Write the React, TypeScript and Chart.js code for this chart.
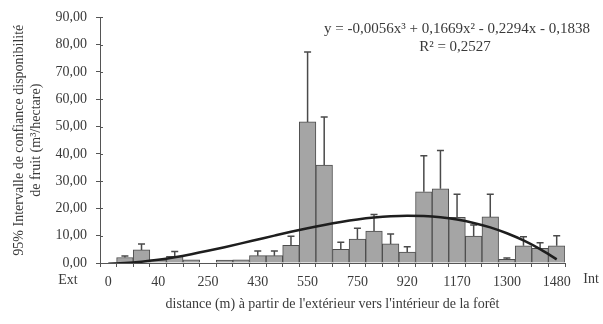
import React, { useEffect, useRef } from "react";
import { Chart, registerables } from "chart.js";

Chart.register(...registerables);

const categories = ["0", "", "", "40", "", "", "250", "", "", "430", "", "", "550", "", "", "750", "", "", "920", "", "", "1170", "", "", "1300", "", "", "1480"];
const barValues = [null, 2.0, 4.8, 1.2, 2.4, 1.2, null, 1.1, 1.2, 2.7, 2.7, 6.5, 51.7, 35.9, 5.0, 8.8, 11.7, 7.0, 4.0, 26.1, 27.2, 16.7, 9.9, 16.9, 1.3, 6.3, 5.4, 6.3];
const errorTop = [null, 2.6, 7.0, null, 4.2, null, null, null, null, 4.4, 4.4, 9.8, 77.3, 53.5, 7.6, 12.7, 17.8, 10.6, 6.0, 39.3, 41.2, 25.2, 13.9, 25.2, 1.8, 9.6, 7.4, 10.0];
const trendValues = [-0.25, -0.02, 0.48, 1.21, 2.14, 3.24, 4.47, 5.8, 7.19, 8.61, 10.03, 11.42, 12.74, 13.95, 15.03, 15.94, 16.64, 17.11, 17.3, 17.19, 16.74, 15.92, 14.69, 13.04, 10.89, 8.25, 5.07, 1.32];
const equationText = "y = -0,0056x³ + 0,1669x² - 0,2294x - 0,1838";
const r2Text = "R² = 0,2527";
const yTitle = ["95% Intervalle de confiance disponibilité", "de fruit (m³/hectare)"];
const xTitle = "distance (m) à partir de l'extérieur vers l'intérieur de la forêt";
const leftEndLabel = "Ext";
const rightEndLabel = "Int";

const FONT = "'Liberation Serif', 'Times New Roman', serif";
const TEXT = "#3a3a3a";
const AXIS = "#555555";

const decorPlugin = {
  id: "decor",
  afterDatasetDraw(chart: any, args: any) {
    if (args.index !== 0) return;
    const { ctx } = chart;
    const x = chart.scales.x;
    const y = chart.scales.y;
    ctx.save();
    ctx.strokeStyle = "#4a4a4a";
    ctx.lineWidth = 1.5;
    errorTop.forEach((e, i) => {
      const v = barValues[i];
      if (e == null || v == null) return;
      const px = x.getPixelForValue(i);
      const y0 = y.getPixelForValue(v);
      const y1 = y.getPixelForValue(e);
      ctx.beginPath();
      ctx.moveTo(px, y0);
      ctx.lineTo(px, y1);
      ctx.moveTo(px - 3.5, y1);
      ctx.lineTo(px + 3.5, y1);
      ctx.stroke();
    });
    ctx.restore();
  },
  afterDraw(chart: any) {
    const { ctx, chartArea } = chart;
    const y = chart.scales.y;
    ctx.save();
    ctx.strokeStyle = AXIS;
    ctx.lineWidth = 1;
    y.ticks.forEach((t: any) => {
      const py = Math.round(y.getPixelForValue(t.value)) + 0.5;
      ctx.beginPath();
      ctx.moveTo(chartArea.left, py);
      ctx.lineTo(chartArea.left + 3, py);
      ctx.stroke();
    });
    ctx.fillStyle = TEXT;
    ctx.font = "14px " + FONT;
    ctx.textAlign = "center";
    ctx.textBaseline = "middle";
    const zeroY = y.getPixelForValue(0);
    ctx.fillText(leftEndLabel, chartArea.left - 32, zeroY + 17);
    ctx.fillText(rightEndLabel, chartArea.right + 26, zeroY + 16);
    ctx.font = "15px " + FONT;
    ctx.fillText(equationText, chartArea.right - 108, chartArea.top + 12);
    ctx.fillText(r2Text, chartArea.right - 110, chartArea.top + 30);
    ctx.restore();
  },
};

export default function App() {
  const ref = useRef<HTMLCanvasElement | null>(null);
  useEffect(() => {
    document.body.style.margin = "0";
    const canvas = ref.current;
    if (!canvas) return;
    const chart = new Chart(canvas, {
      type: "bar",
      data: {
        labels: categories,
        datasets: [
          {
            type: "bar",
            data: barValues as any,
            backgroundColor: "#a5a5a5",
            borderColor: "#4d4d4d",
            borderWidth: 1,
            categoryPercentage: 1,
            barPercentage: 1,
            order: 2,
          },
          {
            type: "line",
            data: trendValues,
            borderColor: "#1e1e1e",
            borderWidth: 2.5,
            pointRadius: 0,
            cubicInterpolationMode: "monotone",
            fill: false,
            order: 0,
          } as any,
        ],
      },
      options: {
        responsive: false,
        animation: false,
        layout: { padding: { top: 17, right: 38, left: 0, bottom: 0 } },
        plugins: {
          legend: { display: false },
          tooltip: { enabled: false },
        },
        scales: {
          x: {
            type: "category",
            offset: true,
            afterFit: (s: any) => {
              s.height = 61;
            },
            border: { display: true, color: AXIS, width: 1 },
            grid: {
              display: true,
              offset: true,
              drawOnChartArea: false,
              drawTicks: true,
              tickLength: 4,
              color: AXIS,
            },
            ticks: {
              autoSkip: false,
              maxRotation: 0,
              minRotation: 0,
              padding: 7,
              color: TEXT,
              font: { family: FONT, size: 14 },
            },
            title: {
              display: true,
              text: xTitle,
              color: TEXT,
              font: { family: FONT, size: 14 },
              padding: { top: 0, bottom: 11 },
            },
          },
          y: {
            min: 0,
            max: 90,
            afterFit: (s: any) => {
              s.width = 100;
            },
            border: { display: true, color: AXIS, width: 1 },
            grid: {
              display: true,
              drawOnChartArea: false,
              drawTicks: true,
              tickLength: 4,
              color: AXIS,
            },
            ticks: {
              stepSize: 10,
              padding: 9,
              color: TEXT,
              font: { family: FONT, size: 14 },
              callback: (v: any) => Number(v).toFixed(2).replace(".", ","),
            },
            title: {
              display: true,
              text: yTitle,
              color: TEXT,
              font: { family: FONT, size: 14 },
              padding: { top: 11, bottom: 0 },
            },
          },
        },
      },
      plugins: [decorPlugin],
    });
    return () => chart.destroy();
  }, []);
  return (
    <div style={{ position: "absolute", left: 0, top: 0, width: 603, height: 324, background: "#fff" }}>
      <canvas ref={ref} width={603} height={324} style={{ display: "block" }} />
    </div>
  );
}
